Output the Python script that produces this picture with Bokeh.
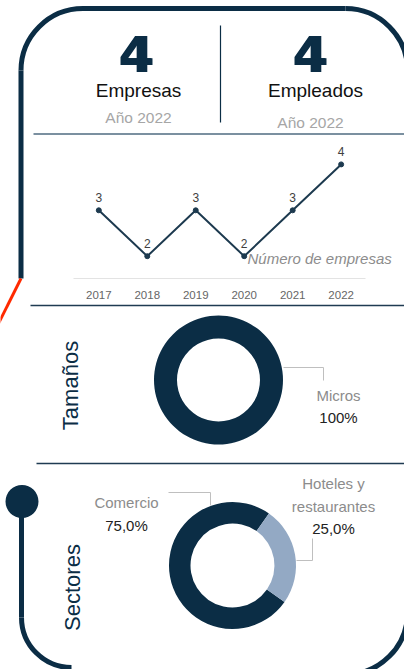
import numpy as np
from bokeh.plotting import figure
from bokeh.models import Range1d, ColumnDataSource
from bokeh.core.properties import value
from bokeh.embed import file_html
from bokeh.resources import INLINE

# ---------------- data ----------------
kpi_labels = ["Empresas", "Empleados"]
kpi_values = [4, 4]
kpi_years = ["Año 2022", "Año 2022"]

years = [2017, 2018, 2019, 2020, 2021, 2022]
empresas = [3, 2, 3, 2, 3, 4]
series_name = "Número de empresas"

size_labels = ["Micros"]
size_values = [4]

sector_labels = [["Comercio"], ["Hoteles y", "restaurantes"]]
sector_values = [3, 1]

# ---------------- style ----------------
NAVY = "#0b2d45"
LINE = "#1d3a4f"
GRAY = "#8c8c8c"
LIGHT = "#93a9c4"
FONT = value("Liberation Sans")

W, H = 404, 669
p = figure(width=W, height=H, x_range=Range1d(0, W), y_range=Range1d(H, 0),
           output_backend="svg", toolbar_location=None, min_border=0,
           x_axis_location=None, y_axis_location=None,
           background_fill_color="white", border_fill_color="white",
           outline_line_color=None)
p.grid.visible = False

# ---------------- frame decoration ----------------
FW = 5
p.segment(x0=[82.5, 20.5, 21], y0=[8, 70, 501], x1=[345, 20.5, 21], y1=[8, 278, 617],
          line_color=NAVY, line_width=FW)
p.arc(x=[82.5, 345, 71, 345], y=[70, 70, 617, 612], radius=[62, 62, 50, 62],
      radius_units="screen",
      start_angle=[np.pi / 2, 0, np.pi, 1.5 * np.pi],
      end_angle=[np.pi, np.pi / 2, 1.5 * np.pi, 2 * np.pi],
      direction="anticlock", line_color=NAVY, line_width=FW)
p.segment(x0=[20.5], y0=[278], x1=[-2], y1=[323], line_color="#ff2a00", line_width=3)
p.scatter(x=[21.5], y=[501], size=33, fill_color=NAVY, line_color=None)

# ---------------- header ----------------
for dx in (-0.9, 0.0, 0.9):
    p.text(x=[136, 310], y=[53, 53], text=[str(v) for v in kpi_values], x_offset=dx,
           text_font=value("DejaVu Sans"), text_font_style="bold", text_font_size="50px",
           text_color=NAVY, text_align="center", text_baseline="middle")
p.text(x=[138, 315], y=[90, 90], text=kpi_labels, text_font=FONT, text_font_size="19px",
       text_color="#111111", text_align="center", text_baseline="alphabetic")
p.text(x=[138, 310], y=[117, 122], text=kpi_years, text_font=FONT, text_font_size="15.5px",
       text_color="#a6a6a6", text_align="center", text_baseline="alphabetic")
p.segment(x0=[220], y0=[25], x1=[220], y1=[122], line_color=NAVY, line_width=1.2)
p.segment(x0=[33], y0=[133.5], x1=[404], y1=[133.5], line_color="#4f6b80", line_width=1.5)

# ---------------- line chart ----------------
# year / value ranges spread over the whole canvas so the chart lands in its panel
p.extra_x_ranges = {"yr": Range1d(2017 - 98.3 / 48.47, 2017 + (W - 98.3) / 48.47)}
p.extra_y_ranges = {"val": Range1d(2 - (H - 255.7) / 45.9, 2 + 255.7 / 45.9)}
src = ColumnDataSource(dict(year=years, n=empresas, lab=[str(v) for v in empresas],
                            ylab=[str(y) for y in years], ybase=[294] * len(years)))
p.segment(x0=[73], y0=[278], x1=[365], y1=[278], line_color="#e3e3e3", line_width=1)
p.line(x="year", y="n", source=src, x_range_name="yr", y_range_name="val",
       line_color=LINE, line_width=2)
p.scatter(x="year", y="n", source=src, x_range_name="yr", y_range_name="val",
          size=5, fill_color=LINE, line_color=LINE)
p.text(x="year", y="n", text="lab", source=src, x_range_name="yr", y_range_name="val",
       y_offset=-13, text_font=FONT, text_font_size="12px", text_color="#404040",
       text_align="center", text_baseline="middle")
p.text(x="year", y="ybase", text="ylab", source=src, x_range_name="yr",
       text_font=FONT, text_font_size="11.5px", text_color="#666666",
       text_align="center", text_baseline="middle")
p.text(x=[247], y=[258], text=[series_name], text_font=FONT, text_font_style="italic",
       text_font_size="15px", text_color=GRAY, text_align="left", text_baseline="middle")
p.segment(x0=[30], y0=[305], x1=[404], y1=[305], line_color="#1f3b52", line_width=1.5)


def donut(cx, cy, r_in, r_out, vals, colors, offset):
    v = np.array(vals, dtype=float)
    frac = v / v.sum()
    cum = np.concatenate([[0], np.cumsum(frac)])
    start = offset - 2 * np.pi * cum[:-1]
    end = offset - 2 * np.pi * cum[1:]
    if len(v) == 1:
        end = end + 1e-4
    p.annular_wedge(x=[cx] * len(v), y=[cy] * len(v), inner_radius=r_in, outer_radius=r_out,
                    inner_radius_units="screen", outer_radius_units="screen",
                    start_angle=start, end_angle=end, direction="clock",
                    fill_color=colors, line_color=None)
    return frac


# ---------------- Tamaños ----------------
fr = donut(218, 379.5, 41.5, 64.5, size_values, [NAVY], np.pi / 2)
p.line(x=[283, 323, 323], y=[367, 367, 380], line_color="#bfbfbf", line_width=1)
p.text(x=[338], y=[395], text=[size_labels[0]], text_font=FONT, text_font_size="15px",
       text_color=GRAY, text_align="center", text_baseline="middle")
p.text(x=[338], y=[417], text=[f"{round(fr[0] * 100)}%"], text_font=FONT, text_font_size="15px",
       text_color="#222222", text_align="center", text_baseline="middle")
p.text(x=[70], y=[385], text=["Tamaños"], angle=np.pi / 2, text_font=FONT, text_font_size="22px",
       text_color=NAVY, text_align="center", text_baseline="middle")
p.segment(x0=[36], y0=[463], x1=[404], y1=[463], line_color="#1f3b52", line_width=1.5)

# ---------------- Sectores ----------------
fr2 = donut(232, 565, 42, 63.5, sector_values, [NAVY, LIGHT], np.deg2rad(-35))
pct = [f"{f * 100:.1f}%".replace(".", ",") for f in fr2]
p.line(x=[168, 210, 210], y=[492, 492, 505], line_color="#bfbfbf", line_width=1)
p.line(x=[296, 312, 312], y=[560, 560, 538], line_color="#bfbfbf", line_width=1)
p.text(x=[126], y=[502], text=sector_labels[0], text_font=FONT, text_font_size="15px",
       text_color=GRAY, text_align="center", text_baseline="middle")
p.text(x=[126], y=[525], text=[pct[0]], text_font=FONT, text_font_size="15px",
       text_color="#222222", text_align="center", text_baseline="middle")
p.text(x=[333, 333], y=[483, 506], text=sector_labels[1], text_font=FONT, text_font_size="15px",
       text_color=GRAY, text_align="center", text_baseline="middle")
p.text(x=[333], y=[528], text=[pct[1]], text_font=FONT, text_font_size="15px",
       text_color="#222222", text_align="center", text_baseline="middle")
p.text(x=[72], y=[587], text=["Sectores"], angle=np.pi / 2, text_font=FONT, text_font_size="22px",
       text_color=NAVY, text_align="center", text_baseline="middle")

open("out.html", "w").write(file_html(p, INLINE))
